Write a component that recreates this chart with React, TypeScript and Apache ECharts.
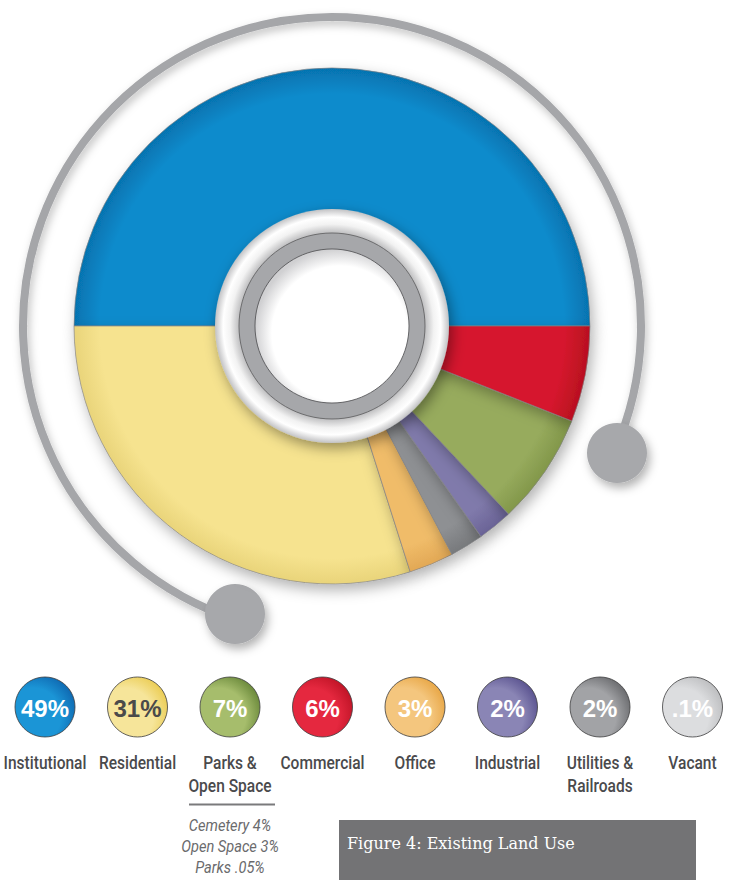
import React, { useEffect, useRef } from 'react';
import * as echarts from 'echarts';

// Pie slices (counter-clockwise from 3 o'clock), shares
const sliceNames = ['Institutional', 'Residential', 'Office', 'Utilities & Railroads', 'Industrial', 'Parks & Open Space', 'Commercial'];
const sliceValues = [50, 29.9, 2.8, 2.1, 2.2, 7.0, 6.0];
const sliceColors = ['#0a8bcc', '#f6e38f', '#f0bc69', '#8e9093', '#807aab', '#97ab5d', '#d6172e'];
const sliceEdgeColors = ['#0673b0', '#e9d47a', '#e2a855', '#77797c', '#6a6396', '#82974a', '#b8101f'];

// Legend row
const legendLabels = ['Institutional', 'Residential', 'Parks &\nOpen Space', 'Commercial', 'Office', 'Industrial', 'Utilities &\nRailroads', 'Vacant'];
const legendPercents = ['49%', '31%', '7%', '6%', '3%', '2%', '2%', '.1%'];
const legendLight = ['#1b95d6', '#f6e59a', '#a6bd6c', '#e5283f', '#f4c67e', '#8a85b5', '#a2a3a6', '#dcdddf'];
const legendDark = ['#0b5aa5', '#e7c43c', '#56772a', '#b30d1e', '#e49c33', '#4a4283', '#58595c', '#b2b3b5'];
const legendTextColors = ['#ffffff', '#4a4a4a', '#ffffff', '#ffffff', '#ffffff', '#ffffff', '#ffffff', '#ffffff'];
const parksBreakdown = ['Cemetery 4%', 'Open Space 3%', 'Parks .05%'];
const figureTitle = 'Figure 4: Existing Land Use';

const CX = 332;
const CY = 326;
const R_OUT = 258;

export default function App() {
  const ref = useRef<HTMLDivElement>(null);

  useEffect(() => {
    if (!ref.current) return;
    const chart = echarts.init(ref.current, null, { renderer: 'svg' });
    const deg = Math.PI / 180;

    const graphics: any[] = [];

    // outer decorative arc with knobs
    graphics.push({
      type: 'arc',
      z: 1,
      shape: { cx: CX, cy: CY, r: 309, startAngle: 108 * deg, endAngle: 384 * deg, clockwise: true },
      style: { stroke: '#a5a6a9', lineWidth: 8, fill: null, shadowBlur: 8, shadowColor: 'rgba(0,0,0,0.25)', shadowOffsetX: 2, shadowOffsetY: 4 },
    });
    graphics.push({
      type: 'circle', z: 2,
      shape: { cx: 617, cy: 453, r: 30 },
      style: { fill: '#a7a8ab', shadowBlur: 10, shadowColor: 'rgba(0,0,0,0.3)', shadowOffsetX: 3, shadowOffsetY: 5 },
    });
    graphics.push({
      type: 'circle', z: 2,
      shape: { cx: 235, cy: 614, r: 30 },
      style: { fill: '#a7a8ab', shadowBlur: 10, shadowColor: 'rgba(0,0,0,0.3)', shadowOffsetX: 3, shadowOffsetY: 5 },
    });

    // center hole rings
    graphics.push({
      type: 'circle', z: 100,
      shape: { cx: CX, cy: CY, r: 117 },
      style: {
        fill: {
          type: 'radial', x: 0.5, y: 0.5, r: 0.5,
          colorStops: [
            { offset: 0, color: '#ffffff' },
            { offset: 0.78, color: '#b4b4b6' },
            { offset: 0.87, color: '#f2f2f2' },
            { offset: 0.93, color: '#ffffff' },
            { offset: 1, color: '#c2c2c4' },
          ],
        },
        shadowBlur: 14, shadowColor: 'rgba(0,0,0,0.4)', shadowOffsetX: 3, shadowOffsetY: 5,
      },
    });
    graphics.push({
      type: 'circle', z: 101,
      shape: { cx: CX, cy: CY, r: 93 },
      style: { fill: '#a6a7aa', stroke: '#5a5a5c', lineWidth: 0.8 },
    });
    graphics.push({
      type: 'circle', z: 102,
      shape: { cx: CX, cy: CY, r: 77 },
      style: {
        fill: {
          type: 'radial', x: 0.55, y: 0.55, r: 0.55,
          colorStops: [
            { offset: 0, color: '#ffffff' },
            { offset: 0.8, color: '#ffffff' },
            { offset: 1, color: '#d0d0d2' },
          ],
        },
        stroke: '#4a4a4c', lineWidth: 0.8,
      },
    });

    // legend
    const LY = 707;
    legendPercents.forEach((p, i) => {
      const x = 45 + 92.5 * i;
      graphics.push({
        type: 'circle', z: 10,
        shape: { cx: x, cy: LY, r: 30 },
        style: {
          fill: {
            type: 'radial', x: 0.3, y: 0.65, r: 0.85,
            colorStops: [
              { offset: 0, color: legendLight[i] },
              { offset: 0.55, color: legendLight[i] },
              { offset: 1, color: legendDark[i] },
            ],
          },
          stroke: '#3c3c3e', lineWidth: 0.8,
        },
      });
      graphics.push({
        type: 'text', z: 11,
        style: {
          x, y: LY + 1, text: p,
          fill: legendTextColors[i],
          fontFamily: 'Liberation Sans', fontWeight: 'bold', fontSize: 24,
          align: 'center', verticalAlign: 'middle', textAlign: 'center', textVerticalAlign: 'middle',
        },
      });
      graphics.push({
        type: 'group', x, y: 751.5, scaleX: 0.84, z: 10,
        children: [{
          type: 'text', z: 10,
          style: {
            x: 0, y: 0, text: legendLabels[i],
            fill: '#4a4a4c',
            fontFamily: 'Roboto', fontWeight: 500, fontSize: 18.5, lineHeight: 22.5,
            align: 'center', verticalAlign: 'top', textAlign: 'center', textVerticalAlign: 'top',
          },
        }],
      });
    });

    // parks breakdown
    graphics.push({
      type: 'line', z: 10,
      shape: { x1: 189, y1: 804.5, x2: 275, y2: 804.5 },
      style: { stroke: '#7a7a7c', lineWidth: 2 },
    });
    graphics.push({
      type: 'group', x: 230, y: 814.5, scaleX: 0.86, z: 10,
      children: [{
        type: 'text', z: 10,
        style: {
          x: 0, y: 0, text: parksBreakdown.join('\n'),
          fill: '#6a6a6c',
          fontFamily: 'Roboto', fontStyle: 'italic', fontSize: 17, lineHeight: 21,
          align: 'center', verticalAlign: 'top', textAlign: 'center', textVerticalAlign: 'top',
        },
      }],
    });

    // figure caption box
    graphics.push({
      type: 'rect', z: 10,
      shape: { x: 339, y: 820, width: 357, height: 60 },
      style: { fill: '#737375' },
    });
    graphics.push({
      type: 'text', z: 11,
      style: {
        x: 347, y: 843, text: figureTitle,
        fill: '#ffffff',
        fontFamily: 'DejaVu Serif', fontSize: 16,
        align: 'left', verticalAlign: 'middle', textAlign: 'left', textVerticalAlign: 'middle',
      },
    });

    chart.setOption({
      animation: false,
      backgroundColor: '#ffffff',
      series: [
        {
          type: 'pie',
          center: [CX, CY],
          radius: [100, R_OUT],
          startAngle: 0,
          clockwise: false,
          silent: true,
          z: 5,
          label: { show: false },
          labelLine: { show: false },
          emphasis: { disabled: true },
          itemStyle: {
            borderColor: 'rgba(130,130,134,0.85)',
            borderWidth: 0.8,
            shadowBlur: 14,
            shadowColor: 'rgba(0,0,0,0.3)',
            shadowOffsetX: 3,
            shadowOffsetY: 6,
          },
          data: sliceNames.map((name, i) => ({
            name,
            value: sliceValues[i],
            itemStyle: {
              color: {
                type: 'radial', x: CX, y: CY, r: R_OUT, global: true,
                colorStops: [
                  { offset: 0, color: sliceColors[i] },
                  { offset: 0.9, color: sliceColors[i] },
                  { offset: 1, color: sliceEdgeColors[i] },
                ],
              },
            },
          })),
        },
      ],
      graphic: { elements: graphics },
    });

    return () => chart.dispose();
  }, []);

  return (
    <div
      ref={ref}
      style={{ position: 'fixed', left: 0, top: 0, width: 731, height: 880, background: '#ffffff' }}
    />
  );
}
